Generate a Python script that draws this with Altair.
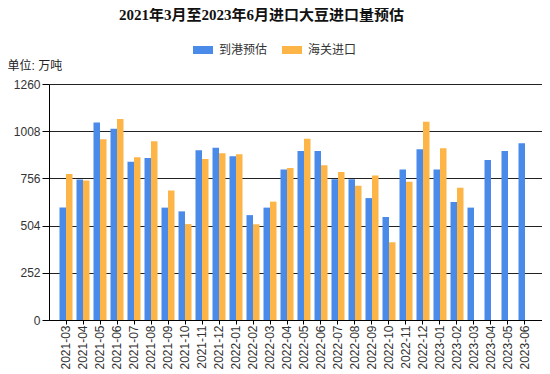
import altair as alt
import pandas as pd

months = ["2021-03","2021-04","2021-05","2021-06","2021-07","2021-08","2021-09","2021-10",
          "2021-11","2021-12","2022-01","2022-02","2022-03","2022-04","2022-05","2022-06",
          "2022-07","2022-08","2022-09","2022-10","2022-11","2022-12","2023-01","2023-02",
          "2023-03","2023-04","2023-05","2023-06"]
arrival_est = [600,750,1055,1021,845,865,600,580,906,920,874,560,600,803,902,902,
               751,751,651,550,803,911,803,630,600,854,902,943]
customs_import = [780,745,965,1073,869,954,692,512,860,890,885,511,632,812,968,826,
                  790,717,772,415,738,1059,917,706,None,None,None,None]
series = ["到港预估", "海关进口"]
colors = ["#4a8ae9", "#fdb548"]
y_ticks = [0, 252, 504, 756, 1008, 1260]

rows = []
for m, a, c in zip(months, arrival_est, customs_import):
    rows.append({"month": m, "series": series[0], "value": a})
    if c is not None:
        rows.append({"month": m, "series": series[1], "value": c})
df = pd.DataFrame(rows)

FONT = "Liberation Sans, Noto Sans CJK SC"

chart = alt.Chart(df).mark_bar().encode(
    x=alt.X("month:N", sort=months,
            scale=alt.Scale(paddingInner=0.235, paddingOuter=0.6176),
            axis=alt.Axis(title=None, labelAngle=-90, tickSize=4, labelPadding=1,
                          domainColor="#000", tickColor="#000", labelColor="#333",
                          labelFontSize=12, labelFont=FONT, grid=False)),
    xOffset=alt.XOffset("series:N", sort=series, scale=alt.Scale(paddingInner=0)),
    y=alt.Y("value:Q", scale=alt.Scale(domain=[0, 1260], nice=False),
            axis=alt.Axis(values=y_ticks, format="d", title="单位: 万吨", titleAngle=0,
                          titleAlign="left", titleBaseline="middle",
                          titleX=-42, titleY=-19, titleFontWeight="normal",
                          titleFontSize=12, titleFont=FONT, titleColor="#222",
                          tickSize=7, labelPadding=2, labelFontSize=12, labelFont=FONT,
                          labelColor="#333", domainColor="#000", tickColor="#000",
                          gridColor="#222", gridWidth=1, gridOpacity=1)),
    color=alt.Color("series:N", sort=series,
                    scale=alt.Scale(domain=series, range=colors),
                    legend=alt.Legend(title=None, orient="none", direction="horizontal",
                                      legendX=144, legendY=-44, padding=0,
                                      symbolType="M-1,-0.4H1V0.4H-1Z", symbolSize=400,
                                      symbolStrokeWidth=0, labelOffset=6,
                                      columnPadding=14, labelFontSize=12,
                                      labelFont=FONT, labelColor="#333")),
).properties(
    width=493,
    height=236,
    title=alt.TitleParams("2021年3月至2023年6月进口大豆进口量预估", anchor="middle",
                          dx=-34, dy=-13, fontSize=15, fontWeight="bold",
                          font="Liberation Serif, Noto Sans CJK SC", color="#111"),
    autosize=alt.AutoSizeParams(type="none"),
    padding={"left": 41, "top": 76, "right": 0, "bottom": 50},
).configure_view(stroke=None)

chart.save("out.html", embed_options={"renderer": "svg", "actions": False})
